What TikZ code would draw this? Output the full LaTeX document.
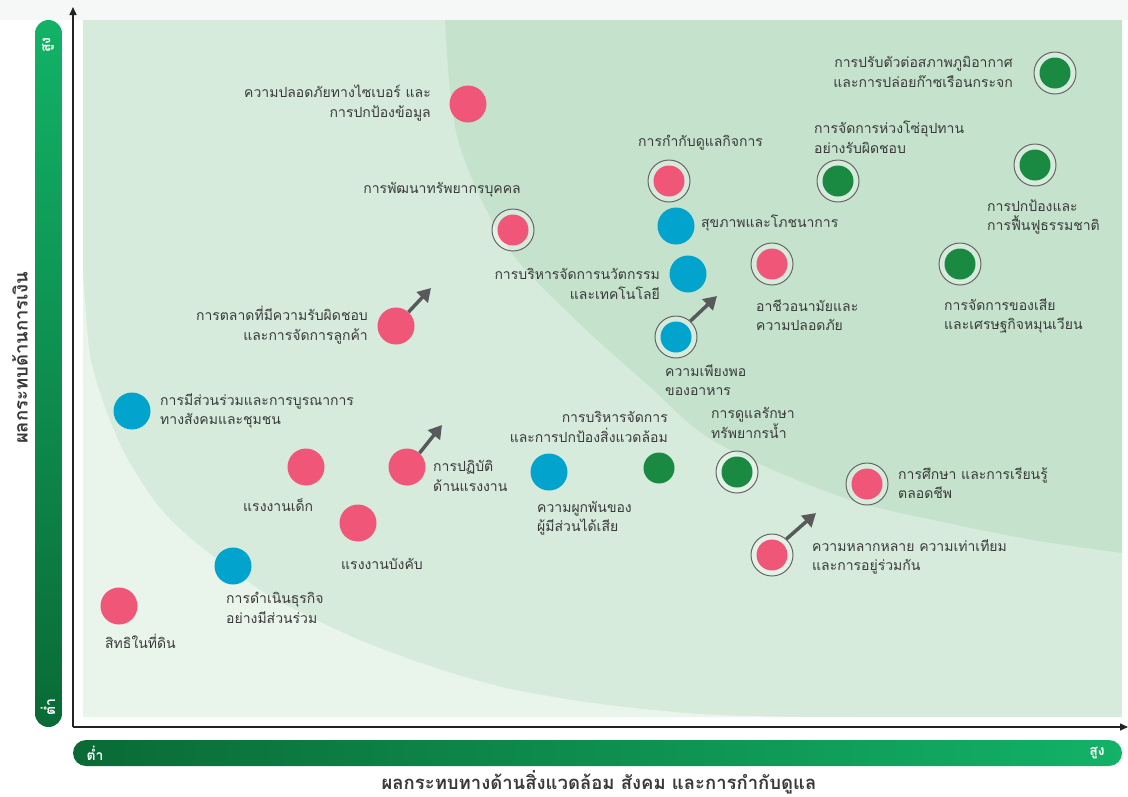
\documentclass[tikz,border=0pt]{standalone}
\usepackage{fontspec}
\setmainfont[Script=Thai]{Loma}
\usetikzlibrary{arrows.meta}
\definecolor{pinkc}{HTML}{EF5678}
\definecolor{bluec}{HTML}{02A4CD}
\definecolor{greenc}{HTML}{1A8A42}
\definecolor{ringgray}{HTML}{666666}
\definecolor{textc}{HTML}{3A3A3A}
\definecolor{arrowc}{HTML}{58595B}
\definecolor{bglight}{HTML}{E9F4EA}
\definecolor{bgmid}{HTML}{D7EBDC}
\definecolor{bgdark}{HTML}{C5E3CC}
\definecolor{barlo}{HTML}{0A6A36}
\definecolor{barhi}{HTML}{12B267}
\definecolor{axisc}{HTML}{222222}
\definecolor{topstrip}{HTML}{F6F7F7}
\tikzset{
  dot/.style={circle, minimum size=37pt, inner sep=0pt, fill=#1},
  smalldot/.style={circle, minimum size=31pt, inner sep=0pt, fill=#1},
  ringdot/.style={circle, minimum size=42pt, inner sep=0pt, draw=ringgray, line width=1pt,
    fill=white, fill opacity=0.3,
    path picture={\fill[#1, fill opacity=1] (path picture bounding box.center) circle (15.5pt);}},
  lbl/.style={inner sep=0pt, text=textc, font=\fontsize{14}{19.5}\selectfont},
  lblw/.style={lbl, anchor=west, align=left},
  lble/.style={lbl, anchor=east, align=right},
  trend/.style={arrowc, line width=3.5pt, -{Triangle[length=13pt,width=15pt]}},
  axis/.style={axisc, line width=1.4pt, -{Triangle[length=8pt,width=7pt]}},
  barlbl/.style={inner sep=0pt, text=white, font=\fontsize{14}{15}\selectfont\bfseries},
  title/.style={text=textc, font=\fontsize{18.5}{22}\selectfont\bfseries},
}
\begin{document}
\begin{tikzpicture}[x=1pt,y=-1pt]
\useasboundingbox (0,0) rectangle (1128,796);
\fill[white] (0,0) rectangle (1128,796);
\fill[topstrip] (0,0) rectangle (1128,20);
% plot regions
\fill[bgmid] (83,20) rectangle (1122,717);
\fill[bglight] (83,717) -- plot[smooth] coordinates {(83,272) (90,355) (106,410) (127,458) (160,508) (200,546) (270,596) (355,638) (430,666) (506,688) (600,704) (700,714) (800,717) (850,717)} -- cycle;
\fill[bgdark] (1122,20) -- plot[smooth] coordinates {(445,20) (449,80) (458,140) (483,203) (517,260) (583,327) (650,387) (700,432) (757,463) (850,500) (933,520) (1033,540) (1122,553)} -- cycle;
% bars
\shade[rounded corners=13.5pt, top color=barhi, bottom color=barlo] (35,20) rectangle (62,727);
\shade[rounded corners=13pt, left color=barlo, right color=barhi] (73,740) rectangle (1122,766);
\node[barlbl, rotate=90] (yhi) at (48,45) {สูง};
\node[barlbl, rotate=90] (ylo) at (48,707) {ต่ำ};
\node[barlbl] (xlo) at (95,753) {ต่ำ};
\node[barlbl] (xhi) at (1097,753) {สูง};
% axes
\coordinate (origin) at (73,727);
\coordinate (ytip) at (73,7);
\coordinate (xtip) at (1128,727);
\draw[axis] (origin) -- (ytip);
\draw[axis] (origin) -- (xtip);
\node[title] (xtitle) at (599,782) {ผลกระทบทางด้านสิ่งแวดล้อม สังคม และการกำกับดูแล};
\node[title, rotate=90] (ytitle) at (20,358) {ผลกระทบด้านการเงิน};
% dots
\node[dot=pinkc] (n1) at (468,104) {};
\node[ringdot=pinkc] (n2) at (513,230) {};
\node[dot=pinkc] (n3) at (396,326) {};
\node[dot=bluec] (n4) at (132,411) {};
\node[dot=pinkc] (n5) at (306,467) {};
\node[dot=pinkc] (n6) at (407,467) {};
\node[dot=pinkc] (n7) at (358,523) {};
\node[dot=bluec] (n8) at (233,566) {};
\node[dot=pinkc] (n9) at (119,606) {};
\node[dot=bluec] (n10) at (549,472) {};
\node[smalldot=greenc] (n11) at (659,468) {};
\node[ringdot=greenc] (n12) at (737,472) {};
\node[ringdot=pinkc] (n13) at (867,484) {};
\node[ringdot=pinkc] (n14) at (772,555) {};
\node[ringdot=pinkc] (n15) at (669,181) {};
\node[dot=bluec] (n16) at (676,226) {};
\node[dot=bluec] (n17) at (688,274) {};
\node[ringdot=bluec] (n18) at (676,337) {};
\node[ringdot=pinkc] (n19) at (772,264) {};
\node[ringdot=greenc] (n20) at (838,181) {};
\node[ringdot=greenc] (n21) at (1055,73) {};
\node[ringdot=greenc] (n22) at (1035,165) {};
\node[ringdot=greenc] (n23) at (960,264) {};
% labels
\node[lble] (l1) at (431,103) {ความปลอดภัยทางไซเบอร์ และ\\การปกป้องข้อมูล};
\node[lble] (l2) at (521,190) {การพัฒนาทรัพยากรบุคคล};
\node[lble] (l3) at (368,325) {การตลาดที่มีความรับผิดชอบ\\และการจัดการลูกค้า};
\node[lblw] (l4) at (160,411) {การมีส่วนร่วมและการบูรณาการ\\ทางสังคมและชุมชน};
\node[lblw] (l5) at (243,505) {แรงงานเด็ก};
\node[lblw] (l6) at (433,476) {การปฏิบัติ\\ด้านแรงงาน};
\node[lblw] (l7) at (341,564) {แรงงานบังคับ};
\node[lblw] (l8) at (226,608) {การดำเนินธุรกิจ\\อย่างมีส่วนร่วม};
\node[lblw] (l9) at (105,641) {สิทธิในที่ดิน};
\node[lblw] (l10) at (537,518) {ความผูกพันของ\\ผู้มีส่วนได้เสีย};
\node[lble] (l11) at (668,427) {การบริหารจัดการ\\และการปกป้องสิ่งแวดล้อม};
\node[lblw] (l12) at (711,423) {การดูแลรักษา\\ทรัพยากรน้ำ};
\node[lblw] (l13) at (898,483) {การศึกษา และการเรียนรู้\\ตลอดชีพ};
\node[lblw] (l14) at (812,557) {ความหลากหลาย ความเท่าเทียม\\และการอยู่ร่วมกัน};
\node[lblw] (l15) at (638,143) {การกำกับดูแลกิจการ};
\node[lblw] (l16) at (701,223) {สุขภาพและโภชนาการ};
\node[lble] (l17) at (660,284) {การบริหารจัดการนวัตกรรม\\และเทคโนโลยี};
\node[lblw] (l18) at (665,380) {ความเพียงพอ\\ของอาหาร};
\node[lblw] (l19) at (756,315) {อาชีวอนามัยและ\\ความปลอดภัย};
\node[lblw] (l20) at (814,137) {การจัดการห่วงโซ่อุปทาน\\อย่างรับผิดชอบ};
\node[lble] (l21) at (1013,72) {การปรับตัวต่อสภาพภูมิอากาศ\\และการปล่อยก๊าซเรือนกระจก};
\node[lblw] (l22) at (987,217) {การปกป้องและ\\การฟื้นฟูธรรมชาติ};
\node[lblw] (l23) at (944,316) {การจัดการของเสีย\\และเศรษฐกิจหมุนเวียน};
% trend arrows
\coordinate (a3) at (431,288);
\coordinate (a6) at (442,425);
\coordinate (a14) at (816,513);
\coordinate (a18) at (717,296);
\draw[trend] (n3.48) -- (a3);
\draw[trend] (n6.48) -- (a6);
\draw[trend] (n14.48) -- (a14);
\draw[trend] (n18.48) -- (a18);
\end{tikzpicture}
\end{document}
